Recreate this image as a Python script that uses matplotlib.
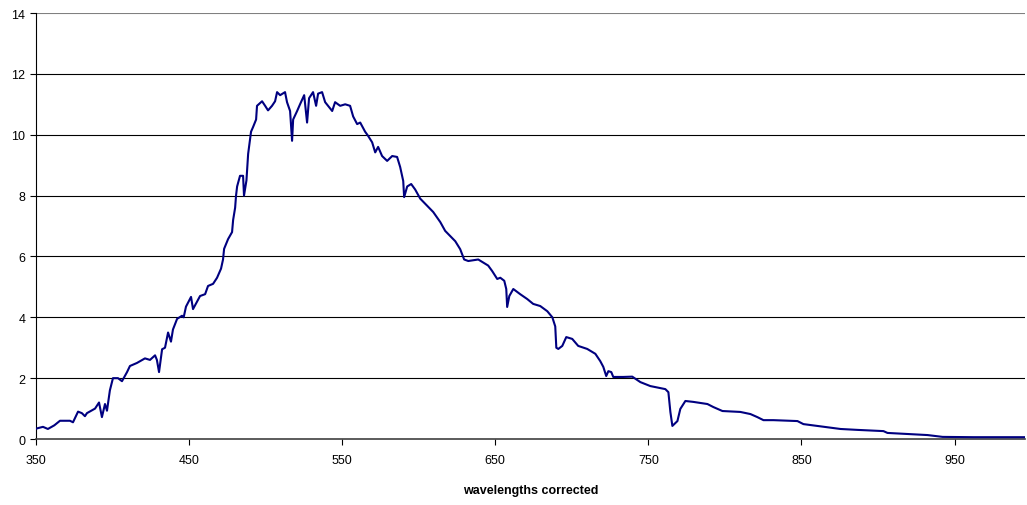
import matplotlib
matplotlib.use('Agg')
import matplotlib.pyplot as plt
import numpy as np

plt.rcParams['font.family'] = ['Liberation Sans', 'DejaVu Sans']

# wavelength (nm) and intensity
wavelength = [350, 350.7, 354.6, 357.8, 362, 365.7, 372.2, 374.2, 377.5, 380, 382, 383.3,
              388.6, 391.2, 393.1, 395.1, 396.4, 398.3, 400.3, 403.6, 406.2, 409.5, 411.4,
              416, 421.2, 424.5, 427.8, 429, 430.4, 432.4, 434.3, 436.3, 438.2, 439.5,
              442.2, 445.4, 446.5, 448, 451.3, 452.6, 457.2, 460.5, 462.4, 465.7, 468.3,
              470.9, 472.2, 472.9, 475.5, 478.1, 478.8, 480.1, 480.7, 481.4, 483.3, 485.3,
              485.9, 487.5, 488.6, 490.5, 491.8, 493.8, 494.4, 497.7, 499.7, 501.6, 504.2,
              506.2, 507.5, 509.5, 512.7, 514, 516, 517.3, 518, 520.6, 522.5, 525.2, 527.1,
              528.4, 531, 533, 534.3, 536.9, 538.9, 540.8, 543.5, 545.4, 548.7, 552, 555.2,
              557.2, 559.8, 561.8, 565, 567, 569.6, 571.6, 573.5, 576.1, 579.4, 582.7,
              585.9, 587.9, 589.9, 590.5, 592.5, 595.1, 597.7, 601, 605.6, 609.5, 614.1,
              617.3, 620.6, 623.9, 627.1, 629.7, 632.4, 638.9, 642.2, 645.4, 648, 651.3,
              653.3, 655.9, 657.2, 657.8, 659.2, 661.8, 666.3, 670.9, 674.8, 679.4, 684,
              687.3, 689.2, 689.9, 691.2, 693.8, 696.4, 700.3, 704.2, 710.1, 715.4, 718.6,
              720.6, 722.5, 723.9, 725.8, 727.1, 733.7, 739.5, 744.8, 751.3, 761.1, 763.1,
              764.4, 765.7, 769, 770.9, 774.2, 779.4, 788.6, 792.5, 798.4, 810.1, 816.7,
              821.2, 825.2, 831.7, 847.4, 851.3, 860.5, 867, 875.5, 886.6, 903.6, 906.2,
              921.2, 932.4, 942.2, 962.4, 996]
intensity = [0.33, 0.35, 0.40, 0.33, 0.45, 0.6, 0.6, 0.55, 0.9, 0.85, 0.75, 0.85,
             1.0, 1.2, 0.72, 1.15, 0.93, 1.6, 2.0, 2.0, 1.9, 2.2, 2.4,
             2.5, 2.65, 2.6, 2.75, 2.6, 2.2, 2.95, 3.0, 3.5, 3.2, 3.6,
             3.95, 4.05, 4.0, 4.35, 4.67, 4.27, 4.7, 4.76, 5.03, 5.1, 5.3,
             5.6, 5.9, 6.25, 6.57, 6.8, 7.2, 7.6, 8.0, 8.3, 8.65, 8.65,
             8.0, 8.5, 9.37, 10.1, 10.25, 10.5, 10.95, 11.1, 10.95, 10.8, 10.95,
             11.1, 11.4, 11.3, 11.4, 11.07, 10.78, 9.8, 10.5, 10.78, 11.0, 11.3, 10.4,
             11.2, 11.4, 10.95, 11.35, 11.4, 11.07, 10.95, 10.78, 11.07, 10.95, 11.0, 10.95,
             10.6, 10.35, 10.4, 10.1, 9.96, 9.75, 9.42, 9.6, 9.3, 9.14, 9.3,
             9.27, 8.94, 8.48, 7.95, 8.3, 8.38, 8.2, 7.9, 7.66, 7.46, 7.13,
             6.84, 6.67, 6.5, 6.24, 5.9, 5.85, 5.9, 5.8, 5.7, 5.52, 5.26,
             5.3, 5.2, 4.93, 4.34, 4.7, 4.93, 4.76, 4.6, 4.44, 4.37, 4.2,
             4.0, 3.7, 3.0, 2.96, 3.06, 3.35, 3.29, 3.06, 2.96, 2.8, 2.56,
             2.37, 2.07, 2.23, 2.2, 2.04, 2.04, 2.05, 1.87, 1.74, 1.64, 1.54,
             0.89, 0.43, 0.59, 0.99, 1.25, 1.22, 1.15, 1.05, 0.92, 0.89, 0.82,
             0.72, 0.62, 0.62, 0.59, 0.49, 0.43, 0.39, 0.33, 0.30, 0.26, 0.20,
             0.16, 0.13, 0.07, 0.06, 0.06]

xticks = [350, 450, 550, 650, 750, 850, 950]
yticks = [0, 2, 4, 6, 8, 10, 12, 14]

fig = plt.figure(figsize=(10.27, 5.06), dpi=100)
ax = fig.add_axes([0.035, 0.1304, 0.963, 0.8419])

for y in yticks[1:]:
    ax.axhline(y, color='#808080' if y == 14 else 'black', lw=0.8, zorder=1)

ax.plot(wavelength, intensity, color='#000080', lw=1.5, zorder=3)

ax.set_xlim(350, 996)
ax.set_ylim(0, 14)
ax.set_xticks(xticks)
ax.set_yticks(yticks)
ax.tick_params(axis='both', labelsize=9, direction='out', length=4, width=0.8, colors='black')
ax.tick_params(axis='x', pad=7)

for s in ['top', 'right']:
    ax.spines[s].set_visible(False)
ax.spines['left'].set_color('black')
ax.spines['left'].set_linewidth(0.8)
ax.spines['bottom'].set_color('#404040')
ax.spines['bottom'].set_linewidth(1.2)

ax.set_xlabel('wavelengths corrected', fontsize=9, fontweight='bold', labelpad=13)

plt.savefig('out.png', dpi=100)
